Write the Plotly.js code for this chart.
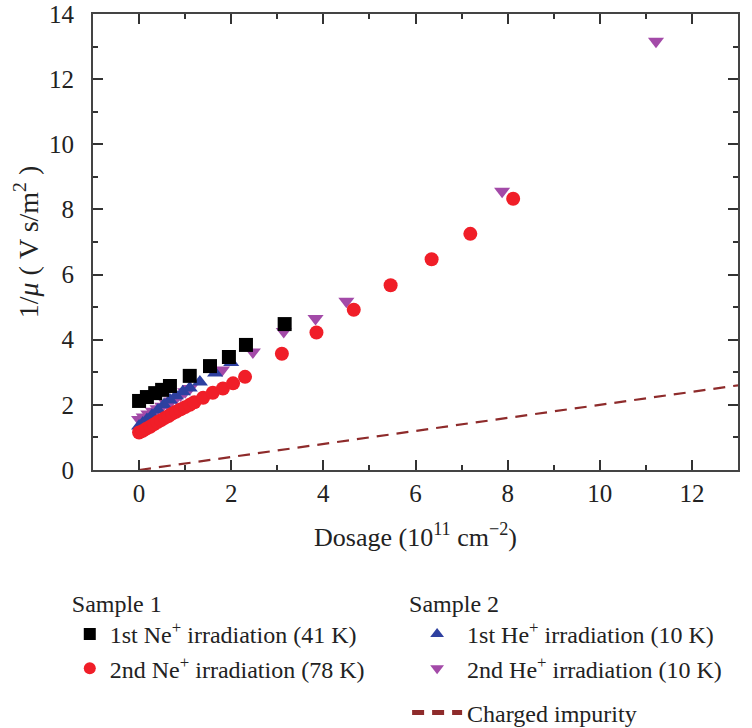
<!DOCTYPE html>
<html>
<head>
<meta charset="utf-8">
<script src="https://cdn.plot.ly/plotly-3.0.1.min.js"></script>
<style>html,body{margin:0;padding:0;background:#fff;}#chart{width:752px;height:728px;}</style>
</head>
<body>
<div id="chart"></div>
<script>
// Sample 1, 1st Ne+ irradiation (41 K)
const ne1X = [0, 0.17, 0.35, 0.5, 0.67, 1.1, 1.54, 1.95, 2.32, 3.16];
const ne1Y = [2.12, 2.24, 2.36, 2.46, 2.58, 2.89, 3.19, 3.47, 3.84, 4.48];
// Sample 1, 2nd Ne+ irradiation (78 K)
const ne2X = [0, 0.08, 0.16, 0.24, 0.32, 0.4, 0.48, 0.56, 0.64, 0.72, 0.8, 0.9, 1.0, 1.1, 1.2, 1.39, 1.6, 1.82, 2.04, 2.3, 3.1, 3.85, 4.66, 5.46, 6.35, 7.19, 8.12];
const ne2Y = [1.15, 1.2, 1.27, 1.33, 1.4, 1.47, 1.53, 1.6, 1.66, 1.73, 1.79, 1.86, 1.93, 2.0, 2.08, 2.22, 2.37, 2.5, 2.66, 2.86, 3.57, 4.22, 4.92, 5.67, 6.47, 7.25, 8.33];
// Sample 2, 1st He+ irradiation (10 K)
const he1X = [0, 0.08, 0.17, 0.28, 0.41, 0.54, 0.67, 0.8, 0.95, 1.1, 1.32, 1.65, 2.0];
const he1Y = [1.35, 1.44, 1.55, 1.68, 1.84, 2.0, 2.15, 2.28, 2.4, 2.52, 2.7, 2.98, 3.3];
// Sample 2, 2nd He+ irradiation (10 K)
const he2X = [0, 0.1, 0.2, 0.3, 0.4, 0.5, 0.6, 0.7, 0.8, 0.9, 1.0, 1.1, 1.8, 2.47, 3.14, 3.83, 4.5, 7.88, 11.22];
const he2Y = [1.55, 1.63, 1.72, 1.8, 1.88, 1.96, 2.04, 2.12, 2.2, 2.3, 2.4, 2.5, 3.07, 3.62, 4.25, 4.65, 5.18, 8.56, 13.16];
// Charged impurity line endpoints
const impX = [0, 13];
const impY = [0, 2.6];

const xTicks = [0, 2, 4, 6, 8, 10, 12];
const yTicks = [0, 2, 4, 6, 8, 10, 12, 14];

const serif = '"Liberation Serif", "DejaVu Serif", serif';
const fs = 25;
const lfs = 24;
const txt = '#222';

const traces = [
  {x: impX, y: impY, mode: 'lines', name: 'Charged impurity', legend: 'legend2', legendrank: 3,
   legendgroup: 'imp',
   line: {color: '#8e2b2b', width: 2.2, dash: '12px,8px'}},
  {x: he2X, y: he2Y, mode: 'markers', name: '2nd He<sup>+</sup> irradiation (10 K)', legend: 'legend2', legendrank: 2,
   legendgroup: 'he',
   marker: {symbol: 'triangle-down', size: 14, color: '#a34aa8'}},
  {x: he1X, y: he1Y, mode: 'markers', name: '1st He<sup>+</sup> irradiation (10 K)', legend: 'legend2', legendrank: 1,
   legendgroup: 'he',
   marker: {symbol: 'triangle-up', size: 14, color: '#2e40a0'}},
  {x: ne2X, y: ne2Y, mode: 'markers', name: '2nd Ne<sup>+</sup> irradiation (78 K)', legend: 'legend', legendrank: 2,
   marker: {symbol: 'circle', size: 14, color: '#f01e28'}},
  {x: ne1X, y: ne1Y, mode: 'markers', name: '1st Ne<sup>+</sup> irradiation (41 K)', legend: 'legend', legendrank: 1,
   marker: {symbol: 'square', size: 14, color: '#000000'}}
];

const axisCommon = {
  showline: true, linecolor: '#444', linewidth: 2, mirror: 'ticks',
  ticks: 'inside', ticklen: 10, tickwidth: 2, tickcolor: '#333',
  showgrid: false, zeroline: false,
  tickfont: {family: serif, size: fs, color: txt}
};

const layout = {
  width: 752, height: 728,
  paper_bgcolor: '#fff', plot_bgcolor: '#fff',
  margin: {l: 93, r: 14, t: 14, b: 258, autoexpand: false},
  font: {family: serif, size: fs, color: txt},
  xaxis: Object.assign({}, axisCommon, {
    range: [-1, 13], tickvals: xTicks, ticktext: xTicks.map(String),
    ticklabelstandoff: 0,
    minor: {ticks: 'inside', ticklen: 5, tickwidth: 2, tickcolor: '#333', dtick: 1, tick0: 0, showgrid: false},
    title: {text: 'Dosage (10<sup>11</sup> cm<sup>−2</sup>)', font: {family: serif, size: 26, color: txt}, standoff: 22}
  }),
  yaxis: Object.assign({}, axisCommon, {
    range: [0, 14], tickvals: yTicks, ticktext: yTicks.map(String),
    ticklabelstandoff: 12,
    minor: {ticks: 'inside', ticklen: 5, tickwidth: 2, tickcolor: '#333', dtick: 1, tick0: 0, showgrid: false},
    title: {text: '1/<i>μ</i> ( V s/m<sup>2</sup> )', font: {family: serif, size: 28, color: txt}, standoff: 2}
  }),
  showlegend: true,
  legend: {
    x: -0.036, y: -0.243, xanchor: 'left', yanchor: 'top',
    bgcolor: 'rgba(0,0,0,0)', borderwidth: 0,
    title: {text: 'Sample 1', font: {family: serif, size: lfs, color: txt}},
    font: {family: serif, size: lfs, color: txt},
    traceorder: 'normal', itemsizing: 'constant'
  },
  legend2: {
    x: 0.487, y: -0.243, xanchor: 'left', yanchor: 'top',
    bgcolor: 'rgba(0,0,0,0)', borderwidth: 0,
    title: {text: 'Sample 2', font: {family: serif, size: lfs, color: txt}},
    font: {family: serif, size: lfs, color: txt},
    traceorder: 'grouped', tracegroupgap: 10, itemsizing: 'constant', itemwidth: 50
  }
};

Plotly.newPlot('chart', traces, layout, {displayModeBar: false, staticPlot: true});
</script>
</body>
</html>
